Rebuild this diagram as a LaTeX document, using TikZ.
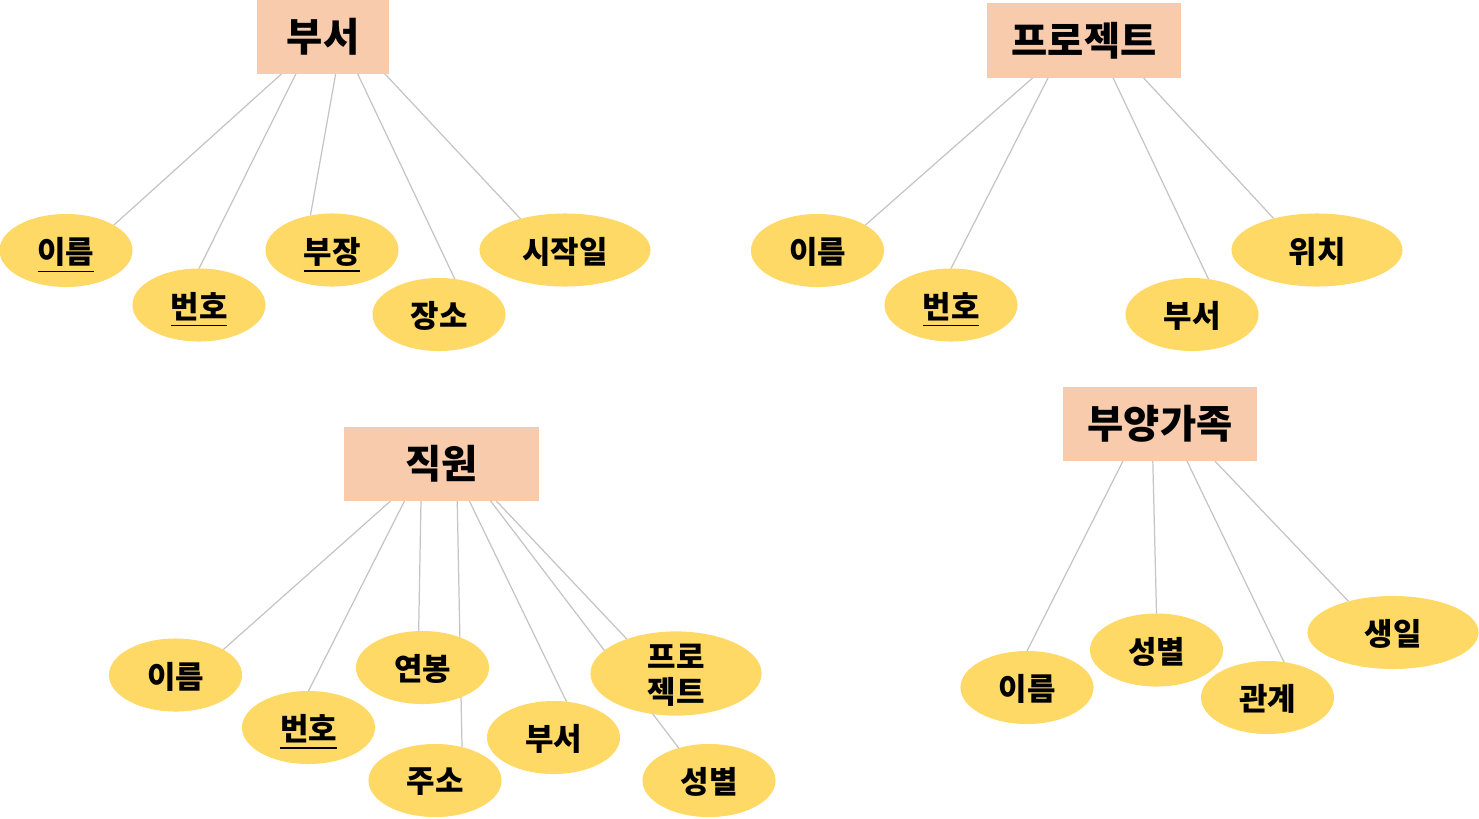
\documentclass[tikz,border=0pt]{standalone}
\usepackage{fontspec}
\setmainfont{Noto Sans CJK KR}
\usetikzlibrary{shapes.geometric,backgrounds}
\definecolor{entfill}{HTML}{F8CBAD}
\definecolor{attfill}{HTML}{FFD966}
\definecolor{linkgray}{HTML}{C4C4C4}
\begin{document}
\begin{tikzpicture}[x=0.01cm,y=-0.01cm,
    ent/.style={rectangle,fill=entfill,minimum width=1.94cm,minimum height=0.74cm,inner sep=0,outer sep=0,font=\fontsize{11.2}{13}\selectfont\bfseries},
    att/.style={ellipse,fill=attfill,minimum width=1.33cm,minimum height=0.73cm,inner sep=0,outer sep=0,text depth=0pt,font=\fontsize{8.8}{10}\selectfont\bfseries},
    wide/.style={att,minimum width=1.71cm},
    link/.style={draw=linkgray,line width=0.35pt}]
    \useasboundingbox (0,0) rectangle (1479,818);
    \node[ent,minimum width=1.32cm] (b) at (323,36.5) {부서};
    \node[att] (b1) at (66,250.5) {\underline{이름}};
    \node[att] (b2) at (199,305) {\underline{번호}};
    \node[att] (b3) at (332,250) {\underline{부장}};
    \node[att] (b4) at (439,314.5) {장소};
    \node[wide] (b5) at (565,250) {시작일};
    \node[ent] (p) at (1084,40.5) {프로젝트};
    \node[att] (p1) at (817.5,250.5) {이름};
    \node[att] (p2) at (951,305) {\underline{번호}};
    \node[att] (p3) at (1192,314.5) {부서};
    \node[wide] (p4) at (1317,250) {위치};
    \node[ent] (e) at (441.5,464) {직원};
    \node[att] (e1) at (175.5,675) {이름};
    \node[att] (e2) at (308.5,727.5) {\underline{번호}};
    \node[att] (e3) at (422.5,667.5) {연봉};
    \node[att] (e4) at (435,780.5) {주소};
    \node[att] (e5) at (553.5,737.5) {부서};
    \node[wide,align=center] (e6) at (676,673.5) {프로\\젝트};
    \node[att] (e7) at (709,780.5) {성별};
    \node[ent] (d) at (1160,424) {부양가족};
    \node[att] (d1) at (1027,687.5) {이름};
    \node[att] (d2) at (1156.5,650) {성별};
    \node[att] (d3) at (1267.5,697.5) {관계};
    \node[wide] (d4) at (1393,632.5) {생일};
    \begin{scope}[on background layer]
        \draw[link] (b.-138.7) -- (b1.28.5) (b.-126.5) -- (b2.90) (b.-71.8) -- (b3.122)
            (b.-47.9) -- (b4.66) (b.-31.7) -- (b5.145);
        \draw[link] (p.-144.9) -- (p1.28) (p.-134.2) -- (p2.90) (p.-52) -- (p3.65)
            (p.-32.6) -- (p4.144.5);
        \draw[link] (e.-144.8) -- (e1.28) (e.-135.4) -- (e2.90) (e.-119) -- (e3.96)
            (e.-67.9) -- (e4.51) (e.-53.4) -- (e5.70) (e.-37.3) -- (e7.133.6)
            (e.-34.4) -- (e6.145.6);
        \draw[link] (d.-135) -- (d1.90) (d.-101.2) -- (d2.90) (d.-54.4) -- (d3.65.5)
            (d.-34.4) -- (d4.145);
    \end{scope}
\end{tikzpicture}
\end{document}
